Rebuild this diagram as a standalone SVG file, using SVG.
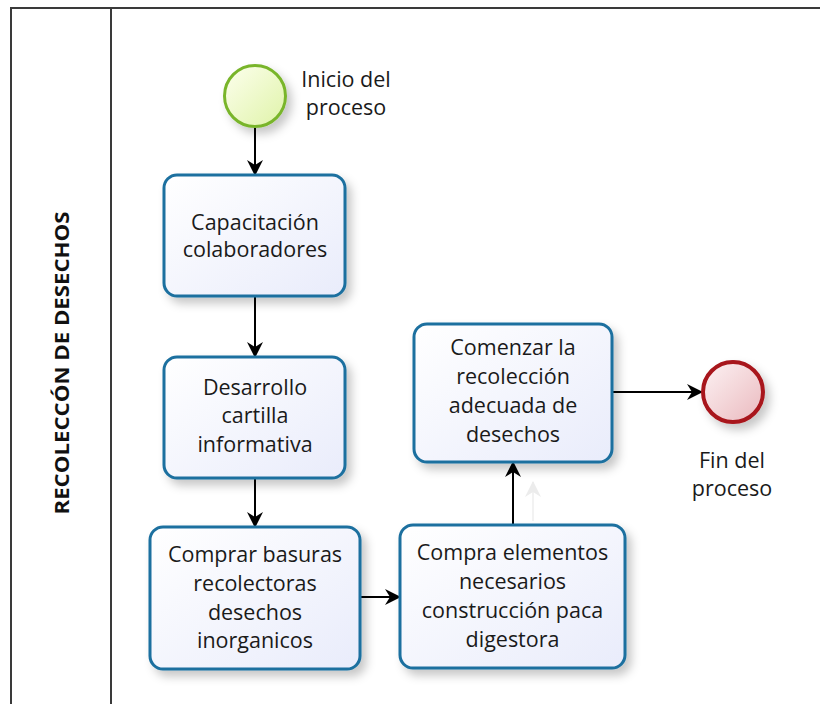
<svg xmlns="http://www.w3.org/2000/svg" width="820" height="704" viewBox="0 0 820 704">
  <defs>
    <linearGradient id="taskFill" x1="0" y1="0" x2="1" y2="1">
      <stop offset="0" stop-color="#ffffff"/>
      <stop offset="1" stop-color="#e9ecfb"/>
    </linearGradient>
    <linearGradient id="startFill" x1="0" y1="0" x2="1" y2="1">
      <stop offset="0" stop-color="#fdffee"/>
      <stop offset="1" stop-color="#dff3a8"/>
    </linearGradient>
    <linearGradient id="endFill" x1="0" y1="0" x2="1" y2="1">
      <stop offset="0" stop-color="#fdf3f4"/>
      <stop offset="1" stop-color="#eab9be"/>
    </linearGradient>
    <filter id="shadow" x="-20%" y="-20%" width="150%" height="150%">
      <feDropShadow dx="5" dy="6" stdDeviation="5" flood-color="#000" flood-opacity="0.22"/>
    </filter>
    <marker id="arrow" markerWidth="18" markerHeight="18" refX="15" refY="9" orient="auto" markerUnits="userSpaceOnUse">
      <path d="M0,1 L16,9 L0,17 L5,9 z" fill="#000"/>
    </marker>
    <marker id="ghostArrow" markerWidth="18" markerHeight="18" refX="15" refY="9" orient="auto" markerUnits="userSpaceOnUse">
      <path d="M0,1 L16,9 L0,17 L5,9 z" fill="#ececec"/>
    </marker>
  </defs>
  <style>
    .task { fill: url(#taskFill); stroke: #1c6f9f; stroke-width: 3; filter: url(#shadow); }
    .label { font-family: "Open Sans", "Noto Sans", sans-serif; font-size: 21.5px; fill: #1a1a1a; text-anchor: middle; }
    .conn { stroke: #000; stroke-width: 2; fill: none; marker-end: url(#arrow); }
    .pool { fill: none; stroke: #3a3a3a; stroke-width: 2; }
  </style>

  <rect width="820" height="704" fill="#ffffff"/>

  <g id="pool">
    <rect class="pool" x="11" y="8" width="830" height="720"/>
    <line class="pool" x1="111" y1="8" x2="111" y2="704"/>
    <text x="0" y="0" transform="translate(69,363) rotate(-90)" font-family="'Open Sans', 'Noto Sans', sans-serif" font-size="19.5px" font-weight="bold" fill="#111" text-anchor="middle" textLength="303" lengthAdjust="spacingAndGlyphs">RECOLECCÓN DE DESECHOS</text>
  </g>

  <g id="connectors">
    <line class="conn" x1="255" y1="128" x2="255" y2="175"/>
    <line class="conn" x1="255" y1="297" x2="255" y2="357"/>
    <line class="conn" x1="255" y1="479" x2="255" y2="527"/>
    <line class="conn" x1="360" y1="597" x2="400" y2="597"/>
    <line class="conn" x1="513" y1="525" x2="513" y2="462"/>
    <line class="conn" x1="612" y1="392" x2="702" y2="392"/>
    <line x1="533" y1="521" x2="533" y2="482" stroke="#eeeeee" stroke-width="1.5" marker-end="url(#ghostArrow)"/>
  </g>

  <g id="start">
    <circle cx="255" cy="96" r="30.5" fill="url(#startFill)" stroke="#79b52c" stroke-width="3" filter="url(#shadow)"/>
    <text class="label" x="346" y="87">Inicio del</text>
    <text class="label" x="346" y="115">proceso</text>
  </g>

  <g id="task1">
    <rect class="task" x="164" y="175" width="181" height="121" rx="13"/>
    <text class="label" x="255" y="230">Capacitación</text>
    <text class="label" x="255" y="257">colaboradores</text>
  </g>

  <g id="task2">
    <rect class="task" x="164" y="357" width="181" height="121" rx="13"/>
    <text class="label" x="255" y="395">Desarrollo</text>
    <text class="label" x="255" y="423">cartilla</text>
    <text class="label" x="255" y="452">informativa</text>
  </g>

  <g id="task3">
    <rect class="task" x="150" y="527" width="210" height="142" rx="13"/>
    <text class="label" x="255" y="562">Comprar basuras</text>
    <text class="label" x="255" y="591">recolectoras</text>
    <text class="label" x="255" y="620">desechos</text>
    <text class="label" x="255" y="648">inorganicos</text>
  </g>

  <g id="task4">
    <rect class="task" x="400" y="525" width="225" height="143" rx="13"/>
    <text class="label" x="512.5" y="560">Compra elementos</text>
    <text class="label" x="512.5" y="589">necesarios</text>
    <text class="label" x="512.5" y="618">construcción paca</text>
    <text class="label" x="512.5" y="647">digestora</text>
  </g>

  <g id="task5">
    <rect class="task" x="414" y="324" width="198" height="138" rx="13"/>
    <text class="label" x="513" y="355">Comenzar la</text>
    <text class="label" x="513" y="384">recolección</text>
    <text class="label" x="513" y="413">adecuada de</text>
    <text class="label" x="513" y="442">desechos</text>
  </g>

  <g id="end">
    <circle cx="733" cy="392" r="30" fill="url(#endFill)" stroke="#a8141b" stroke-width="4" filter="url(#shadow)"/>
    <text class="label" x="732" y="468">Fin del</text>
    <text class="label" x="732" y="496">proceso</text>
  </g>
</svg>
